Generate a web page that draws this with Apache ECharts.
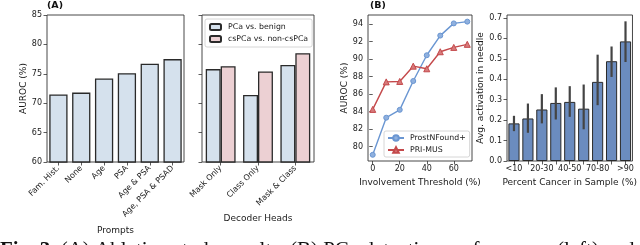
<!DOCTYPE html>
<html>
<head>
<meta charset="utf-8">
<script src="https://cdn.jsdelivr.net/npm/echarts@6/dist/echarts.min.js"></script>
<style>
html,body{margin:0;padding:0;background:#fff;}
#c{width:640px;height:245px;}
</style>
</head>
<body>
<div id="c"></div>
<script>
// ---- data ----
const promptCats = ['Fam. Hist.', 'None', 'Age', 'PSA', 'Age & PSA', 'Age, PSA & PSAD'];
const promptAUROC = [71.5, 71.8, 74.2, 75.1, 76.7, 77.5];
const headCats = ['Mask Only', 'Class Only', 'Mask & Class'];
const pcaBenign = [75.8, 71.4, 76.5];
const csPCaNon = [76.3, 75.4, 78.5];
const aTicks = [60, 65, 70, 75, 80, 85];

const thresholds = [0, 10, 20, 30, 40, 50, 60, 70];
const prostNFound = [79.05, 83.3, 84.2, 87.5, 90.45, 92.7, 94.1, 94.3];
const priMus = [84.25, 87.4, 87.45, 89.2, 88.9, 90.85, 91.35, 91.7];
const bxTicks = [0, 20, 40, 60];
const byTicks = [80, 82, 84, 86, 88, 90, 92, 94];

const percentCats = ['<10', '10-20', '20-30', '30-40', '40-50', '50-60', '70-80', '80-90', '>90'];
const activation = [0.184, 0.208, 0.252, 0.284, 0.289, 0.256, 0.387, 0.488, 0.585];
const ciLow = [0.146, 0.138, 0.184, 0.203, 0.216, 0.155, 0.273, 0.411, 0.484];
const ciHigh = [0.221, 0.281, 0.327, 0.360, 0.366, 0.374, 0.520, 0.560, 0.683];
const actTicks = [0, 0.1, 0.2, 0.3, 0.4, 0.5, 0.6, 0.7];

// ---- styles ----
const FONT = 'DejaVu Sans';
const TXT = '#1a1a1a';
const lblStyle = {fontFamily: FONT, fontSize: 8, color: TXT};
const nameStyle = {fontFamily: FONT, fontSize: 9, color: TXT};
const tick = {show: true, length: 3.5, lineStyle: {color: '#333', width: 0.8}};
const gridBase = {show: true, borderColor: '#333', borderWidth: 0.9, backgroundColor: 'transparent', containLabel: false};

const chart = echarts.init(document.getElementById('c'), null, {renderer: 'canvas'});

const option = {
  animation: false,
  backgroundColor: '#fff',
  grid: [
    Object.assign({left: 47, top: 15, width: 137, height: 147}, gridBase),
    Object.assign({left: 202, top: 15, width: 112, height: 147}, gridBase),
    Object.assign({left: 368, top: 15, width: 104, height: 146}, gridBase),
    Object.assign({left: 507, top: 15, width: 128, height: 146}, gridBase)
  ],
  xAxis: [
    {gridIndex: 0, type: 'category', data: promptCats, axisLine: {show: false},
     axisTick: Object.assign({alignWithLabel: true, interval: 0}, tick),
     axisLabel: Object.assign({rotate: 45, interval: 0, margin: 5}, lblStyle),
     name: 'Prompts', nameLocation: 'middle', nameGap: 48, nameTextStyle: nameStyle},
    {gridIndex: 1, type: 'category', data: headCats, axisLine: {show: false},
     axisTick: Object.assign({alignWithLabel: true, interval: 0}, tick),
     axisLabel: Object.assign({rotate: 45, interval: 0, margin: 5}, lblStyle),
     name: 'Decoder Heads', nameLocation: 'middle', nameGap: 39, nameTextStyle: nameStyle},
    {gridIndex: 2, type: 'value', min: -3.5, max: 73.5, axisLine: {show: false}, splitLine: {show: false},
     axisTick: Object.assign({customValues: bxTicks}, tick),
     axisLabel: Object.assign({customValues: bxTicks, margin: 4}, lblStyle),
     name: 'Involvement Threshold (%)', nameLocation: 'middle', nameGap: 10.5, nameTextStyle: nameStyle},
    {gridIndex: 3, type: 'category', data: percentCats, axisLine: {show: false},
     axisTick: Object.assign({alignWithLabel: true, interval: 0}, tick),
     axisLabel: Object.assign({interval: 1, margin: 4}, lblStyle),
     name: 'Percent Cancer in Sample (%)', nameLocation: 'middle', nameGap: 10.5, nameTextStyle: nameStyle}
  ],
  yAxis: [
    {gridIndex: 0, type: 'value', min: 60, max: 85, interval: 5, axisLine: {show: false}, splitLine: {show: false},
     axisTick: tick, axisLabel: Object.assign({margin: 5}, lblStyle),
     name: 'AUROC (%)', nameLocation: 'middle', nameGap: 16, nameTextStyle: nameStyle},
    {gridIndex: 1, type: 'value', min: 60, max: 85, interval: 5, axisLine: {show: false}, splitLine: {show: false},
     axisTick: tick, axisLabel: {show: false}},
    {gridIndex: 2, type: 'value', min: 78.34, max: 95.06, axisLine: {show: false}, splitLine: {show: false},
     axisTick: Object.assign({customValues: byTicks}, tick),
     axisLabel: Object.assign({customValues: byTicks, margin: 5}, lblStyle),
     name: 'AUROC (%)', nameLocation: 'middle', nameGap: 14, nameTextStyle: nameStyle},
    {gridIndex: 3, type: 'value', min: 0, max: 0.714, axisLine: {show: false}, splitLine: {show: false},
     axisTick: Object.assign({customValues: actTicks}, tick),
     axisLabel: Object.assign({customValues: actTicks, margin: 5, formatter: v => v.toFixed(1)}, lblStyle),
     name: 'Avg. activation in needle', nameLocation: 'middle', nameGap: 19, nameTextStyle: nameStyle}
  ],
  legend: [
    {data: ['PCa vs. benign', 'csPCa vs. non-csPCa'], orient: 'vertical', left: 205, top: 19,
     itemWidth: 11, itemHeight: 6, itemGap: 4, padding: [4, 4, 4, 4],
     borderColor: '#cccccc', borderWidth: 0.8, borderRadius: 2, backgroundColor: '#fff',
     textStyle: {fontFamily: FONT, fontSize: 7.8, color: TXT, padding: [0, 0, 0, 2]}},
    {data: ['ProstNFound+', 'PRI-MUS'], orient: 'vertical', left: 384, top: 131,
     itemWidth: 16, itemHeight: 7, itemGap: 4, padding: [3, 4, 3, 3],
     borderColor: '#cccccc', borderWidth: 0.8, borderRadius: 2, backgroundColor: '#fff',
     textStyle: {fontFamily: FONT, fontSize: 7.8, color: TXT, padding: [0, 0, 0, 1]}}
  ],
  series: [
    {type: 'bar', name: 'Prompts', xAxisIndex: 0, yAxisIndex: 0, data: promptAUROC, barWidth: '80%',
     itemStyle: {color: '#d5e1ed', borderColor: '#2a2a2a', borderWidth: 1.3}},
    {type: 'bar', name: 'PCa vs. benign', xAxisIndex: 1, yAxisIndex: 1, data: pcaBenign,
     barCategoryGap: '20%', barGap: '0%',
     itemStyle: {color: '#d5e1ed', borderColor: '#2a2a2a', borderWidth: 1.3}},
    {type: 'bar', name: 'csPCa vs. non-csPCa', xAxisIndex: 1, yAxisIndex: 1, data: csPCaNon,
     barCategoryGap: '20%', barGap: '0%',
     itemStyle: {color: '#ecd0d3', borderColor: '#2a2a2a', borderWidth: 1.3}},
    {type: 'line', name: 'ProstNFound+', xAxisIndex: 2, yAxisIndex: 2,
     data: thresholds.map((t, i) => [t, prostNFound[i]]),
     symbol: 'circle', symbolSize: 5, lineStyle: {color: '#6a96d2', width: 1.4},
     itemStyle: {color: '#8fb0de', borderColor: '#6a96d2', borderWidth: 1}},
    {type: 'line', name: 'PRI-MUS', xAxisIndex: 2, yAxisIndex: 2,
     data: thresholds.map((t, i) => [t, priMus[i]]),
     symbol: 'triangle', symbolSize: 6, lineStyle: {color: '#c4494b', width: 1.4},
     itemStyle: {color: '#d77a7b', borderColor: '#c4494b', borderWidth: 1}},
    {type: 'bar', name: 'activation', xAxisIndex: 3, yAxisIndex: 3, data: activation, barWidth: '80%',
     itemStyle: {color: '#6b8cbf', borderColor: '#2a2a2a', borderWidth: 1}},
    {type: 'custom', name: 'ci', xAxisIndex: 3, yAxisIndex: 3, z: 5,
     data: percentCats.map((c, i) => [i, ciLow[i], ciHigh[i]]),
     renderItem: function (params, api) {
       const p1 = api.coord([api.value(0), api.value(1)]);
       const p2 = api.coord([api.value(0), api.value(2)]);
       return {type: 'line', shape: {x1: p1[0], y1: p1[1], x2: p2[0], y2: p2[1]},
               style: {stroke: '#444', lineWidth: 2.2}};
     }}
  ],
  graphic: [
    {type: 'text', left: 47, top: 1, style: {text: '(A)', font: 'bold 9.5px "DejaVu Sans"', fill: '#111'}},
    {type: 'text', left: 370, top: 1, style: {text: '(B)', font: 'bold 9.5px "DejaVu Sans"', fill: '#111'}},
    {type: 'text', x: 0, y: 240, style: {
      text: '{b|Fig. 3.} (A) Ablation study results. (B) PCa detection performance (left) and',
      font: '21px "Liberation Serif"', fill: '#111', verticalAlign: 'top',
      rich: {b: {font: 'bold 21px "Liberation Serif"', fill: '#111'}}}}
  ]
};
chart.setOption(option);
</script>
</body>
</html>
